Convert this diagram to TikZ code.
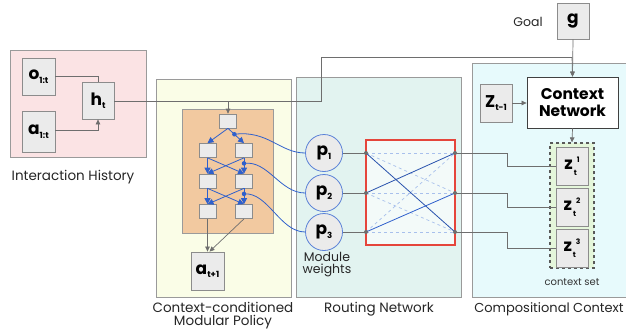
\documentclass[tikz,border=0pt]{standalone}
\usepackage{fontspec}
\setmainfont{Poppins}
\usetikzlibrary{arrows.meta}
\definecolor{pinkbg}{HTML}{FBE3E4}
\definecolor{yelbg}{HTML}{FAFDE7}
\definecolor{orbg}{HTML}{F2C9A0}
\definecolor{routbg}{HTML}{E2F3F0}
\definecolor{compbg}{HTML}{E7FAFC}
\definecolor{boxfill}{HTML}{EBEBEB}
\definecolor{boxline}{HTML}{8C8C8C}
\definecolor{panline}{HTML}{9A9A9A}
\definecolor{redl}{HTML}{E5453B}
\definecolor{bluel}{HTML}{2F60CC}
\definecolor{lblue}{HTML}{A8C0EC}
\definecolor{cblue}{HTML}{5B82D8}
\definecolor{greenbg}{HTML}{E4F6DA}
\definecolor{conn}{HTML}{6E6E6E}
\newcommand\bigsub[2]{{\fontsize{17}{17}\selectfont\bfseries #1}\raisebox{-3.5pt}{\fontsize{8.5}{8.5}\selectfont\bfseries #2}}
\newcommand\zsup[1]{{\fontsize{17}{17}\selectfont\bfseries z}\kern1pt\raisebox{-5.5pt}{\fontsize{7.5}{7.5}\selectfont\bfseries\shortstack[l]{\hspace{3pt}#1\\[5pt]t}}}
\tikzset{
  panel/.style={draw=panline, line width=0.8pt},
  gbox/.style={draw=boxline, fill=boxfill, line width=0.8pt, inner sep=0pt},
  mbox/.style={draw=boxline, fill=boxfill, line width=0.7pt, inner sep=0pt, minimum width=17pt, minimum height=14pt},
  pcirc/.style={circle, draw=cblue, fill=boxfill, line width=0.8pt, inner sep=0pt, minimum size=37pt},
  garrow/.style={draw=conn, line width=0.7pt, -{Triangle[width=4.5pt,length=5pt]}},
  gline/.style={draw=conn, line width=0.7pt},
  barrow/.style={draw=bluel, line width=0.8pt, -{Triangle[width=6pt,length=6pt]}},
  bcurve/.style={draw=bluel, line width=0.8pt},
  lab/.style={font=\fontsize{13.5}{15}\selectfont, text=black!85, align=center},
  jdot/.style={circle, fill=conn, inner sep=0pt, minimum size=4pt},
  bdot/.style={circle, fill=bluel, inner sep=0pt, minimum size=4.5pt},
}
\begin{document}
\begin{tikzpicture}[x=1pt,y=-1pt]
\useasboundingbox (0,0) rectangle (626,332);
\fill[white] (0,0) rectangle (626,332);
% panels
\draw[panel, fill=pinkbg] (10,50) rectangle (146,157);
\draw[panel, fill=yelbg] (156,79) rectangle (291,297);
\draw[panel, fill=routbg] (296,77) rectangle (461,297);
\fill[compbg] (472,63) rectangle (626,297);
\draw[panel] (626,63) -- (472,63) -- (472,297) -- (626,297);
\draw[draw=panline, line width=0.8pt, fill=orbg] (182,109) rectangle (273,233);
% panel labels
\node[lab] (l1) at (73,177) {Interaction History};
\node[lab] (l2) at (223,316) {Context-conditioned\\[-2pt]Modular Policy};
\node[lab] (l3) at (379,309) {Routing Network};
\node[lab, font=\fontsize{13}{15}\selectfont] (l4) at (549,309) {Compositional Context};
\node[lab, font=\fontsize{12.5}{13}\selectfont] (l5) at (327,265) {Module\\[-1pt]weights};
\node[lab, font=\fontsize{12.5}{13}\selectfont] (l6) at (528,22) {Goal};
\node[font=\fontsize{10}{11}\selectfont, text=black!80] (l7) at (572,282) {context set};
% interaction history
\node[gbox, minimum width=33pt, minimum height=37pt] (o) at (38.5,76.5) {\bigsub{o}{1:t}};
\node[gbox, minimum width=33pt, minimum height=41pt] (a) at (38.5,131.5) {\bigsub{a}{1:t}};
\node[gbox, minimum width=32pt, minimum height=37pt] (h) at (98,100.5) {\bigsub{h}{t}};
\draw[gline] (o.east |- 0,76) -- (98,76) -- (h.north);
\draw[garrow] (a.east |- 0,130) -- (98,130) -- (h.south);
% goal / context network
\node[gbox, minimum width=32pt, minimum height=36pt] (g) at (573,21) {{\fontsize{17}{17}\selectfont\bfseries g}};
\node[draw=black!75, fill=white, line width=0.8pt, minimum width=91pt, minimum height=51pt, align=center, font=\fontsize{15.5}{17}\selectfont\bfseries] (cn) at (572.5,102.5) {Context\\Network};
\node[gbox, minimum width=32pt, minimum height=38pt] (zp) at (496,103) {\bigsub{Z}{t-1}};
\draw[garrow] (zp.east) -- (cn.west |- zp.east);
\draw[garrow] (g.south) -- (cn.north);
\coordinate (j1) at (321,57);
\coordinate (j2) at (572,57);
\coordinate (j3) at (321,101);
\coordinate (j4) at (228,101);
\draw[gline] (h.east |- j3) -- (j3) -- (j1) -- (j2);
% context set
\node[draw=black!65, dashed, line width=1.2pt, fill=greenbg, minimum width=44pt, minimum height=125pt] (cs) at (572,205.5) {};
\draw[garrow] (cn.south) -- (cs.north);
\node[gbox, minimum width=32pt, minimum height=38pt] (z1) at (572,166) {\zsup{1}};
\node[gbox, minimum width=32pt, minimum height=38pt] (z2) at (572,207) {\zsup{2}};
\node[gbox, minimum width=32pt, minimum height=38pt] (z3) at (572,248) {\zsup{3}};
% modular policy
\node[mbox] (m0) at (228,121) {};
\node[mbox] (m1l) at (207.5,150.5) {};
\node[mbox] (m1r) at (244,150.5) {};
\node[mbox] (m2l) at (207.5,181) {};
\node[mbox] (m2r) at (244,181) {};
\node[mbox] (m3l) at (207.5,211.5) {};
\node[mbox] (m3r) at (244,211.5) {};
\node[gbox, minimum width=33pt, minimum height=38pt] (at) at (207.5,271) {\bigsub{a}{t+1}};
\draw[garrow] (j4) -- (m0.north);
\draw[barrow] (m0.south) -- (m1l.north);
\draw[barrow] (m0.south) -- node[bdot, pos=0.4] (d1) {} (m1r.north);
\draw[barrow] (m1l.south) -- (m2l.north);
\draw[barrow] (m1l.south) -- (m2r.north);
\draw[barrow] (m1r.south) -- (m2l.north);
\draw[barrow] (m1r.south) -- node[bdot, pos=0.35] (d2) {} (m2r.north);
\draw[barrow] (m2l.south) -- (m3l.north);
\draw[barrow] (m2l.south) -- (m3r.north);
\draw[barrow] (m2r.south) -- (m3l.north);
\draw[barrow] (m2r.south) -- node[bdot, pos=0.35] (d3) {} (m3r.north);
\draw[garrow] (m3l.south) -- (at.north);
\draw[garrow] (m3r.south) -- ([xshift=2pt]at.north);
% routing network
\node[pcirc] (p1) at (324,153) {\bigsub{p}{1}};
\node[pcirc] (p2) at (324,193) {\bigsub{p}{2}};
\node[pcirc] (p3) at (324,232) {\bigsub{p}{3}};
\draw[bcurve] (d1.center) .. controls (268,130) and (280,153) .. (p1.west);
\draw[bcurve] (d2.center) .. controls (268,160) and (280,193) .. (p2.west);
\draw[bcurve] (d3.center) .. controls (268,192) and (280,232) .. (p3.west);
\node[draw=redl, line width=1.2pt, fill=white!60!routbg, minimum width=89pt, minimum height=105pt] (rb) at (410.5,192.5) {};
\coordinate (L1) at (366,153); \coordinate (L2) at (366,193); \coordinate (L3) at (366,232);
\coordinate (R1) at (455,153); \coordinate (R2) at (455,193); \coordinate (R3) at (455,232);
\foreach \a/\b in {L1/R1,L2/R2,L3/R3,L1/R2,L2/R3,L3/R1}
  \draw[lblue, dashed, line width=0.7pt] (\a) -- (\b);
\draw[bluel!85!black, line width=0.8pt] (L1) -- (R3);
\draw[bluel!85!black, line width=0.8pt] (L2) -- (R1);
\draw[bluel, line width=0.8pt] (L3) -- (R2);
\draw[gline] (p1.east) -- (L1);
\draw[gline] (p2.east) -- (L2);
\draw[gline] (p3.east) -- (L3);
\draw[gline] (R1) -- (507,153) -- (507,166) -- (z1.west);
\draw[gline] (R2) -- (507,193) -- (507,207) -- (z2.west);
\draw[gline] (R3) -- (507,232) -- (507,248) -- (z3.west);
\foreach \c in {L1,L2,L3,R1,R2,R3}
  \node[jdot] at (\c) {};
\draw[garrow] (j2) -- (cn.north);
\end{tikzpicture}
\end{document}
